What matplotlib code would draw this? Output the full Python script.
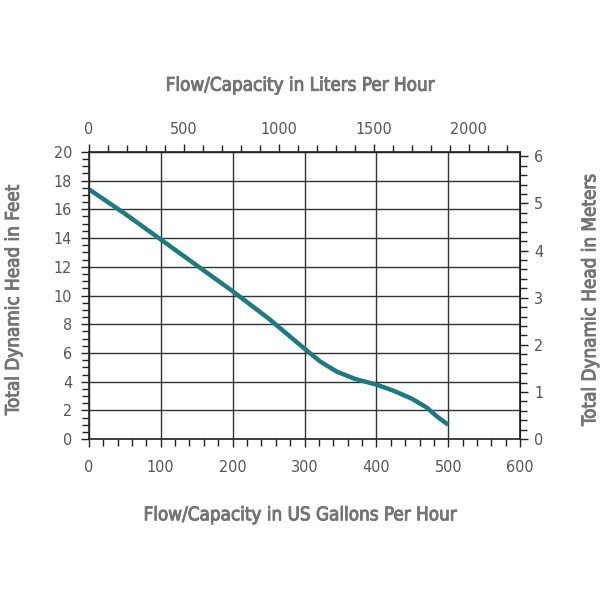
"""Pump performance curve: head vs flow, with metric secondary axes."""

import numpy as np
import matplotlib.pyplot as plt
import matplotlib.patheffects as pe
from matplotlib.ticker import MultipleLocator, FixedLocator

# flow in US gallons per hour, head in feet
flow_gph = [0, 50, 100, 150, 200, 250, 300, 322, 345, 370, 400, 425, 450, 470, 485, 500]
head_ft = [17.4, 15.7, 13.9, 12.1, 10.3, 8.4, 6.3, 5.4, 4.7, 4.2, 3.8, 3.35, 2.8, 2.2, 1.55, 1.0]

# secondary axis ticks
liter_major = [0, 500, 1000, 1500, 2000]
meter_major = [0, 1, 2, 3, 4, 5, 6]

L_PER_GAL = 3.78541
M_PER_FT = 0.3048

TEXT_GRAY = "#747474"
TICK_GRAY = "#555555"
LINE_COLOR = "#1b7b7d"
FONT = ["DejaVu Sans"]


def style_ticks(axis_obj, pad):
    axis_obj.tick_params(which="both", direction="out", color="#222222",
                         labelcolor=TICK_GRAY, labelsize=11.5, width=1.0,
                         pad=pad)
    axis_obj.tick_params(which="major", length=6)
    axis_obj.tick_params(which="minor", length=5)


def main() -> None:
    fig = plt.figure(figsize=(6, 6), dpi=100)
    ax = fig.add_axes([0.148, 0.268, 0.719, 0.479])

    ax.plot(flow_gph, head_ft, color=LINE_COLOR, lw=3.2,
            solid_capstyle="butt", solid_joinstyle="round")

    ax.set_xlim(0, 600)
    ax.set_ylim(0, 20)
    ax.xaxis.set_major_locator(MultipleLocator(100))
    ax.xaxis.set_minor_locator(MultipleLocator(20))
    ax.yaxis.set_major_locator(MultipleLocator(2))
    ax.yaxis.set_minor_locator(MultipleLocator(0.5))
    ax.grid(True, which="major", color="#333333", lw=1.0)
    style_ticks(ax, 6)
    ax.tick_params(axis="x", pad=9)
    for sp in ax.spines.values():
        sp.set_color("#222222")
        sp.set_linewidth(1.2)

    top = ax.secondary_xaxis(
        "top", functions=(lambda g: g * L_PER_GAL, lambda l: l / L_PER_GAL))
    top.xaxis.set_major_locator(FixedLocator(liter_major))
    top.xaxis.set_minor_locator(FixedLocator(np.arange(0, 2300, 100)))
    style_ticks(top, 5)

    right = ax.secondary_yaxis(
        "right", functions=(lambda f: f * M_PER_FT, lambda m: m / M_PER_FT))
    right.yaxis.set_major_locator(FixedLocator(meter_major))
    right.yaxis.set_minor_locator(FixedLocator(np.arange(0, 6.1, 0.2)))
    style_ticks(right, 4)

    for lab in (ax.get_xticklabels() + ax.get_yticklabels()
                + top.get_xticklabels() + right.get_yticklabels()):
        lab.set_family(FONT)
        lab.set_fontstretch("condensed")

    stroke = [pe.withStroke(linewidth=0.7, foreground=TEXT_GRAY)]
    title_kw = dict(color=TEXT_GRAY, fontsize=13.5, family=FONT,
                    fontstretch="condensed", fontweight="normal",
                    ha="center", va="center", path_effects=stroke)
    fig.text(0.5, 0.858, "Flow/Capacity in Liters Per Hour", **title_kw)
    fig.text(0.5, 0.142, "Flow/Capacity in US Gallons Per Hour", **title_kw)
    fig.text(0.022, 0.5, "Total Dynamic Head in Feet", rotation=90, **title_kw)
    fig.text(0.983, 0.5, "Total Dynamic Head in Meters", rotation=90, **title_kw)

    fig.savefig("out.png", dpi=100, facecolor="white")


if __name__ == "__main__":
    main()
